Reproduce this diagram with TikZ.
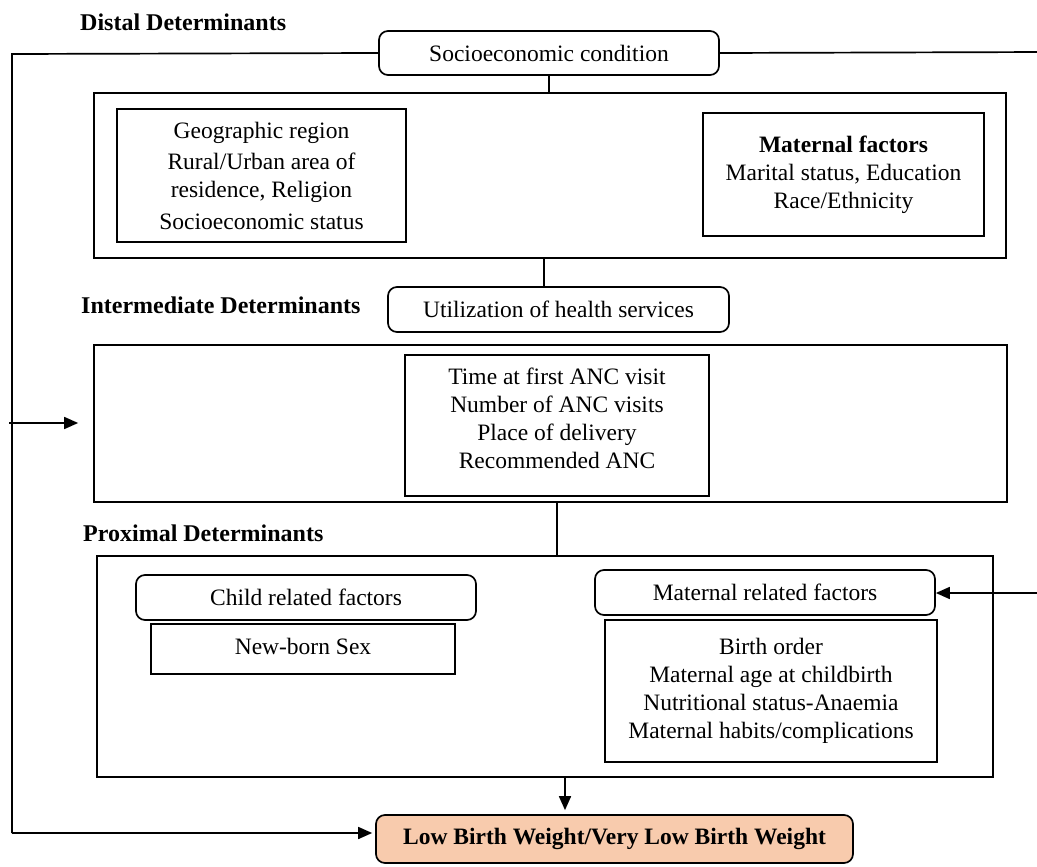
\documentclass[tikz,border=0pt]{standalone}
\usepackage{fontspec}
\setmainfont{Liberation Serif}
\usetikzlibrary{arrows.meta,calc}
\definecolor{peach}{HTML}{F8CBAD}
\begin{document}
\begin{tikzpicture}[x=1pt,y=-1pt,
  every node/.style={font=\fontsize{23.5}{28}\selectfont},
  sqbox/.style={draw,line width=1.7pt,inner sep=0pt,align=center},
  rbox/.style={sqbox,rounded corners=9pt},
  hdr/.style={anchor=west,inner sep=0pt,font=\fontsize{24}{28}\selectfont\bfseries},
  conn/.style={line width=1.7pt},
  arr/.style={line width=1.7pt,-{Triangle[length=14pt,width=12pt]}}]
\useasboundingbox (0,0) rectangle (1037,867);

% headers
\node[hdr] (hdist) at (80,22) {Distal Determinants};
\node[hdr] (hint) at (81,305) {Intermediate Determinants};
\node[hdr] (hprox) at (83,533) {Proximal Determinants};

% distal
\node[rbox,minimum width=340pt,minimum height=44pt] (soc) at (549,53) {Socioeconomic condition};
\node[sqbox,minimum width=912pt,minimum height=165pt] (distal) at (550,175.5) {};
\node[sqbox,minimum width=289pt,minimum height=133pt] (geo) at (261.5,175.5)
  {Geographic region\\[3pt] Rural/Urban area of\\ residence, Religion\\[4pt] Socioeconomic status};
\node[sqbox,minimum width=281pt,minimum height=123pt] (matf) at (843.5,174.5)
  {\textbf{Maternal factors}\\ Marital status, Education\\ Race/Ethnicity};

% intermediate
\node[rbox,minimum width=341pt,minimum height=45pt] (util) at (558.5,309.5) {Utilization of health services};
\node[sqbox,minimum width=913pt,minimum height=157pt] (inter) at (550.5,423.5) {};
\node[sqbox,minimum width=304pt,minimum height=141pt] (anc) at (557,425.5)
  {Time at first ANC visit\\ Number of ANC visits\\ Place of delivery\\ Recommended ANC\\[-14pt]\mbox{}};

% proximal
\node[sqbox,minimum width=896pt,minimum height=221pt] (prox) at (545,666.5) {};
\node[rbox,minimum width=340pt,minimum height=45pt] (child) at (306,597.5) {Child related factors};
\node[sqbox,minimum width=304pt,minimum height=50pt] (sex) at (303,649) {New-born Sex\\[-22pt]\mbox{}};
\node[rbox,minimum width=340pt,minimum height=45pt] (matr) at (765,592.5) {Maternal related factors};
\node[sqbox,minimum width=332pt,minimum height=142pt] (matb) at (771,691)
  {Birth order\\ Maternal age at childbirth\\ Nutritional status-Anaemia\\ Maternal habits/complications};

% outcome
\node[rbox,fill=peach,minimum width=477pt,minimum height=48pt,font=\fontsize{23.5}{28}\selectfont\bfseries] (lbw) at (614.5,839)
  {Low Birth Weight/Very Low Birth Weight};

% coordinates for outer lines
\coordinate (L1) at (12,54);
\coordinate (L2) at (12,833);
\coordinate (L3) at (9,423);
\coordinate (R1) at (1047,52);
\coordinate (R2) at (1047,593);

% connectors
\draw[conn] (soc.south) -- (soc.south |- distal.north);
\draw[conn] ([xshift=-14.5pt]util.north |- distal.south) -- ([xshift=-14.5pt]util.north);
\draw[conn] (inter.south -| anc.south) -- (prox.north -| anc.south);
\draw[arr,shorten >=4pt] ([xshift=20pt]prox.south) -- ([xshift=20pt]prox.south |- lbw.north);
\draw[conn] (soc.west) -- (L1) -- (L2);
\draw[arr,shorten >=3pt] (L2) -- (lbw.west |- L2);
\draw[arr,shorten >=15pt] (L3) -- (inter.west |- L3);
\draw[conn] (soc.east) -- (R1) -- (R2);
\draw[arr] (R2) -- (matr.east |- R2);
\end{tikzpicture}
\end{document}
